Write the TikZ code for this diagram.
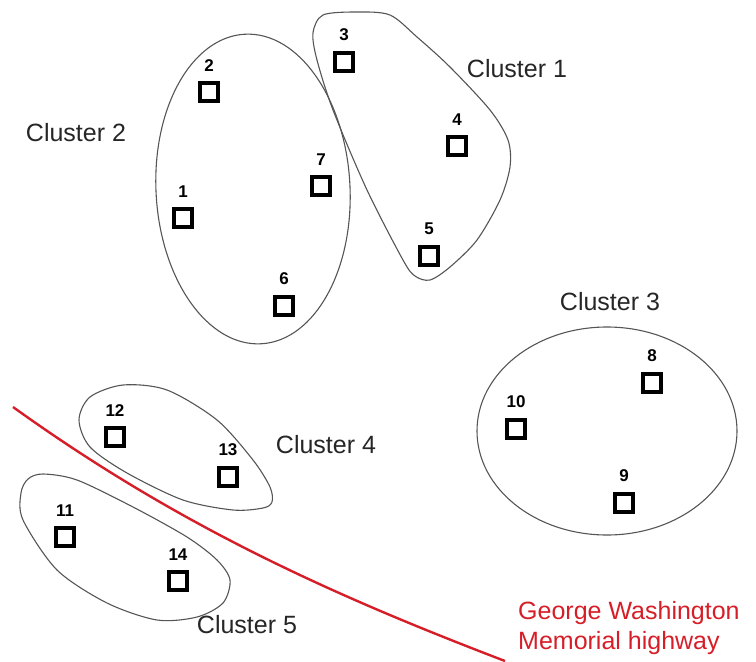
\documentclass[tikz,border=0pt]{standalone}
\usepackage{fontspec}
\setmainfont{Liberation Sans}
\usetikzlibrary{positioning}
\definecolor{roadred}{RGB}{214,30,40}
\definecolor{hullgray}{RGB}{85,85,85}

\begin{document}
\begin{tikzpicture}[x=1pt, y=-1pt,
    site/.style={draw, line width=3.6pt, minimum size=18pt, inner sep=0pt},
    num/.style={font=\fontsize{17}{17}\selectfont\bfseries, inner sep=0pt},
    hull/.style={draw=hullgray, line width=1.1pt},
    tag/.style={font=\fontsize{25}{30}\selectfont, text=black!85}]
    \useasboundingbox (0,0) rectangle (756,662);

    % road
    \draw[roadred, line width=2.4pt] (13,407) .. controls (180,527) and (335,596) .. (505,661);
    \node[text=roadred, font=\fontsize{25}{30}\selectfont, align=left, anchor=west, inner sep=0pt] (road) at (518,628)
        {George Washington\\Memorial highway};

    % sites
    \foreach \n/\px/\py in {1/183/218, 2/209/92, 3/344/62, 4/457/146, 5/429/256, 6/284/306, 7/321/186,
                            8/652/383, 9/624/503, 10/516/429, 11/65/537, 12/115/437, 13/228/477, 14/178/581} {
        \node[site] (p\n) at (\px,\py) {};
        \node[num, above=10pt of p\n] (n\n) {\n};
    }

    % cluster 1
    \draw[hull] plot[smooth cycle] coordinates
        {(323,15) (357,12) (390,15) (417,37) (450,67) (490,110) (508,140) (510,167) (500,200)
         (477,240) (450,267) (430,280) (415,276) (403,260) (367,190) (333,110) (317,60) (313,33)};
    \node[tag] (c1) at (517,69) {Cluster 1};

    % cluster 2
    \draw[hull, rotate around={3:(253,189)}] (253,189) ellipse [x radius=97, y radius=155];
    \node[tag] (c2) at (76,133) {Cluster 2};

    % cluster 3
    \draw[hull] (607,431) ellipse [x radius=130, y radius=104];
    \node[tag] (c3) at (610,302) {Cluster 3};

    % cluster 4
    \draw[hull] plot[smooth cycle] coordinates
        {(79,420) (90,397) (123,385) (167,390) (217,420) (253,460) (270,487) (272,502)
         (263,508) (233,510) (183,500) (127,473) (90,447)};
    \node[tag] (c4) at (326,445) {Cluster 4};

    % cluster 5
    \draw[hull] plot[smooth cycle] coordinates
        {(28,479) (43,474) (77,480) (133,507) (187,537) (217,560) (230,580) (223,603)
         (197,617) (157,620) (107,603) (57,570) (23,520) (21,493)};
    \node[tag] (c5) at (247,625) {Cluster 5};
\end{tikzpicture}
\end{document}
